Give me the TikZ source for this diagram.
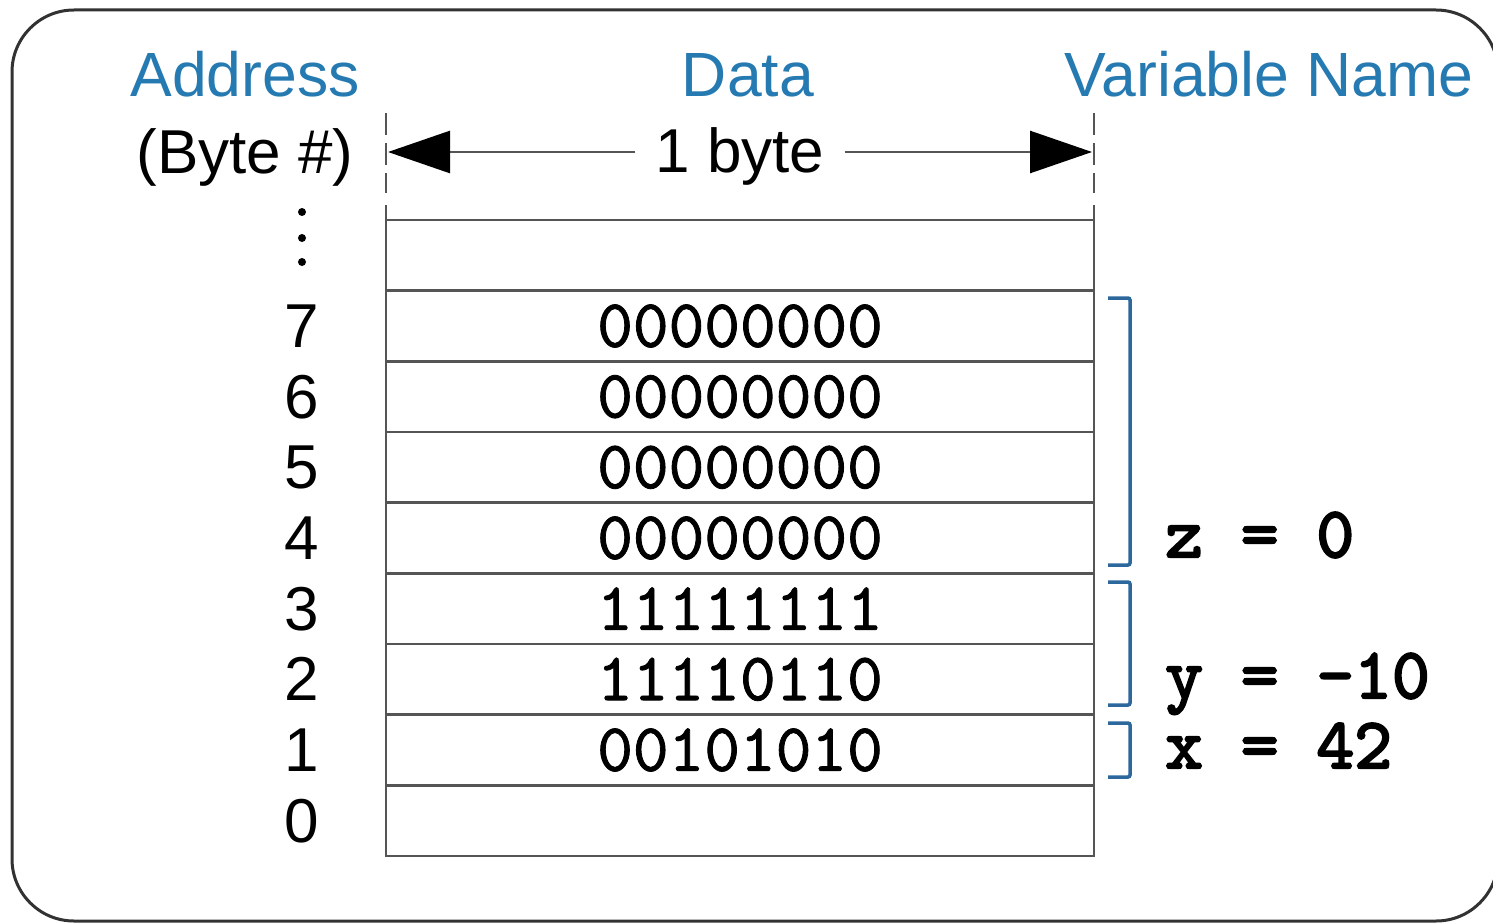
\documentclass[tikz,border=0pt]{standalone}
\usepackage{fontspec}
\setmainfont{Liberation Sans}
\newfontface\datafont{lmmono10-regular.otf}[FakeBold=1.2]
\newfontface\varfont{lmmono10-regular.otf}[FakeBold=3]
\usetikzlibrary{arrows.meta}
\definecolor{hdrblue}{RGB}{38,122,178}
\definecolor{brblue}{RGB}{44,104,156}
\definecolor{gridgray}{RGB}{85,85,85}
\definecolor{framegray}{RGB}{50,50,50}
\begin{document}
\begin{tikzpicture}[x=1pt,y=-1pt,
  hdr/.style={text=hdrblue, font=\fontsize{62.5}{70}\selectfont, inner sep=0, anchor=base},
  lbl/.style={font=\fontsize{62}{70}\selectfont, inner sep=0},
  cell/.style={draw=gridgray, line width=2.6pt, minimum width=708pt, minimum height=70.67pt, inner sep=0, font=\datafont\fontsize{68}{70}\selectfont},
  brk/.style={draw=brblue, line width=3.5pt, rounded corners=2pt},
  varl/.style={anchor=base west, inner sep=0, font=\varfont\fontsize{72}{70}\selectfont},
  ext/.style={draw=gridgray, line width=2.4pt},
  dimarrow/.style={draw=gridgray, line width=2.6pt, -{Triangle[length=62pt,width=42pt,black]}}
]
\useasboundingbox (0,0) rectangle (1493,923);
% outer frame
\draw[line width=3pt, draw=framegray, rounded corners=62pt] (12,10) rectangle (1498,921);

% headers
\node[hdr] (hAddr) at (245,97) {Address};
\node[hdr] (hData) at (748,97) {Data};
\node[hdr] (hVar) at (1269,97) {Variable Name};
\node[lbl, anchor=base] (hByte) at (245,173) {(Byte \#)};

% extension lines
\draw[ext, dash pattern=on 22pt off 8pt] (386,113) -- (386,193);
\draw[ext, dash pattern=on 22pt off 8pt] (1094,113) -- (1094,193);
\draw[ext] (386,205) -- (386,220);
\draw[ext] (1094,205) -- (1094,220);

% dimension arrow
\node[lbl, anchor=base, inner xsep=20pt] (bytelbl) at (740,172) {1 byte};
\coordinate (aL) at (388,152);
\coordinate (aR) at (1092,152);
\draw[dimarrow] (bytelbl.west |- aL) -- (aL);
\draw[dimarrow] (bytelbl.east |- aR) -- (aR);

% memory rows
\node[cell] (rtop) at (740,255.33) {};
\node[cell] (r7) at (740,326) {00000000};
\node[cell] (r6) at (740,396.67) {00000000};
\node[cell] (r5) at (740,467.33) {00000000};
\node[cell] (r4) at (740,538) {00000000};
\node[cell] (r3) at (740,608.67) {11111111};
\node[cell] (r2) at (740,679.33) {11110110};
\node[cell] (r1) at (740,750) {00101010};
\node[cell] (r0) at (740,820.67) {};

% addresses
\fill (302,212) circle (4pt);
\fill (302,238) circle (4pt);
\fill (302,262) circle (4pt);
\node[lbl] (a7) at (302,326) {7};
\node[lbl] (a6) at (302,396.67) {6};
\node[lbl] (a5) at (302,467.33) {5};
\node[lbl] (a4) at (302,538) {4};
\node[lbl] (a3) at (302,608.67) {3};
\node[lbl] (a2) at (302,679.33) {2};
\node[lbl] (a1) at (302,750) {1};
\node[lbl] (a0) at (302,820.67) {0};

% brackets
\draw[brk] (1108,298) -- (1130,298) -- (1130,565) -- (1108,565);
\draw[brk] (1108,582) -- (1130,582) -- (1130,705) -- (1108,705);
\draw[brk] (1108,723) -- (1130,723) -- (1130,777) -- (1108,777);

% variable names
\node[varl] (vz) at (1165,557) {z = 0};
\node[varl] (vy) at (1165,698) {y = -10};
\node[varl] (vx) at (1165,768) {x = 42};
\end{tikzpicture}
\end{document}
